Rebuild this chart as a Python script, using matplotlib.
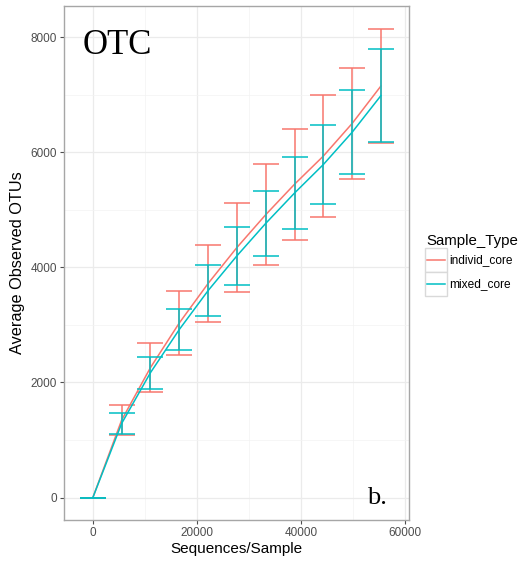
import numpy as np
import matplotlib
matplotlib.use("Agg")
import matplotlib.pyplot as plt
from matplotlib.patches import Rectangle
from matplotlib.lines import Line2D

plt.rcParams['font.family'] = ['Liberation Sans', 'DejaVu Sans']

# Courbes de rarefaction : moyenne et ecart par profondeur
sequences = [0, 5540, 11080, 16620, 22160, 27700, 33240, 38780, 44320, 49860, 55400]
individ_mean = [0, 1346, 2258, 3033, 3719, 4344, 4914, 5443, 5932, 6499, 7150]
individ_err = [0, 258, 428, 556, 668, 778, 874, 964, 1054, 966, 987]
mixed_mean = [0, 1288, 2170, 2919, 3595, 4199, 4763, 5290, 5785, 6346, 6983]
mixed_err = [0, 188, 278, 362, 440, 506, 567, 630, 691, 732, 802]

series = [("individ_core", individ_mean, individ_err, "#F8766D"),
          ("mixed_core", mixed_mean, mixed_err, "#00BFC4")]

cap_half = 2500
W, H = 524, 561

fig = plt.figure(figsize=(W / 100, H / 100), dpi=100)
ax = fig.add_axes([64 / W, 1 - 520 / H, 345 / W, 514 / H])

for name, mean, err, col in series:
    x = np.array(sequences)
    m = np.array(mean)
    e = np.array(err)
    ax.plot(x, m, color=col, lw=1.1, zorder=3)
    ax.vlines(x, m - e, m + e, color=col, lw=1.1, zorder=3)
    ax.hlines(m - e, x - cap_half, x + cap_half, color=col, lw=1.1, zorder=3)
    ax.hlines(m + e, x - cap_half, x + cap_half, color=col, lw=1.1, zorder=3)

ax.set_xlim(-5550, 60800)
ax.set_ylim(-390, 8540)
ax.set_xticks([0, 20000, 40000, 60000])
ax.set_yticks([0, 2000, 4000, 6000, 8000])
ax.set_xticks([10000, 30000, 50000], minor=True)
ax.set_yticks([1000, 3000, 5000, 7000], minor=True)
ax.grid(which="major", color="#EBEBEB", lw=0.9, zorder=0)
ax.grid(which="minor", color="#F3F3F3", lw=0.5, zorder=0)
ax.tick_params(which="major", length=3, width=0.8, color="#4D4D4D",
               labelsize=8.5, labelcolor="#4D4D4D", pad=2)
ax.tick_params(which="minor", length=0)
for sp in ax.spines.values():
    sp.set_color("#A6A6A6")
    sp.set_linewidth(1.0)

ax.set_xlabel("Sequences/Sample", fontsize=11, labelpad=2)
ax.set_ylabel("Average Observed OTUs", fontsize=11.7, labelpad=4)

ax.text(-2000, 7850, "OTC", family="Liberation Serif", fontsize=25,
        ha="left", va="center")
ax.text(52800, 0, "b.", family="Liberation Serif", fontsize=19,
        ha="left", va="center")

# legende faite a la main, avec les cases grises de ggplot
fig.text(426 / W, 1 - 245 / H, "Sample_Type", fontsize=10.8,
         ha="left", va="baseline")
for i, (name, _, _, col) in enumerate(series):
    top = 248 + 24 * i
    fig.add_artist(Rectangle((425 / W, 1 - (top + 24) / H), 22 / W, 24 / H,
                             transform=fig.transFigure, facecolor="white",
                             edgecolor="#D9D9D9", lw=1.0))
    yc = 1 - (top + 12) / H
    fig.add_artist(Line2D([427 / W, 445 / W], [yc, yc], color=col, lw=1.1,
                          transform=fig.transFigure))
    fig.text(449 / W, yc, name, fontsize=8.6, ha="left", va="center")

fig.savefig("out.png", dpi=100)
